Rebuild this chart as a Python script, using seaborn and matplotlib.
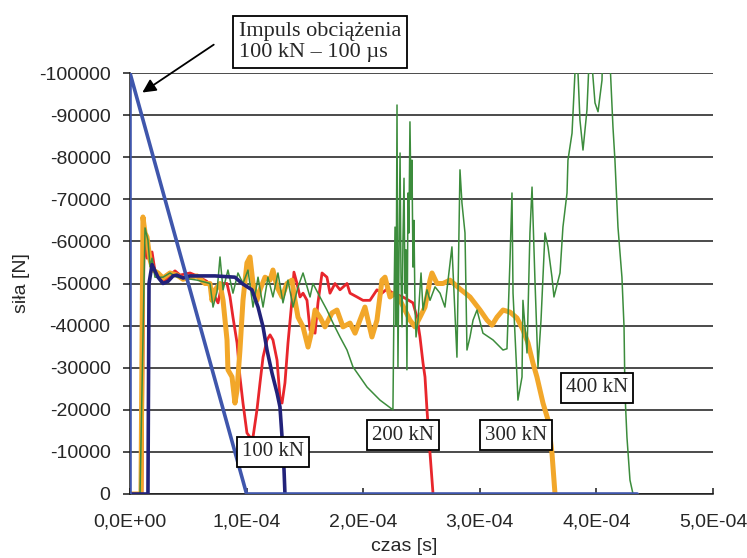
import matplotlib
matplotlib.use("Agg")
import matplotlib.pyplot as plt
from matplotlib.ticker import FuncFormatter
import pandas as pd
import seaborn as sns

# Time in microseconds, force in newtons (compression is negative)
impulse = [(0, 0), (0, -100000), (100, 0), (435, 0)]

kn100 = [
    (0, 0), (15.4, 0), (16.3, -50000), (18.9, -54500), (21.4, -53000), (24.0, -51500),
    (28.3, -50000), (32.6, -50500), (36.9, -51800), (40.3, -52000), (45.5, -51300),
    (51.5, -51800), (72.9, -51800), (90.0, -51500), (96.1, -50000), (104.6, -48500),
    (109.8, -44400), (114.1, -39700), (117.5, -34200), (121.8, -28700), (126.1, -24000),
    (128.6, -20700), (130.4, -13500), (132.1, -5700), (132.9, 0),
]

kn200 = [
    (0, 0), (10.3, 0), (12.0, -60000), (14.6, -56000), (18.9, -57500), (21.4, -53000),
    (25.7, -51500), (30.0, -50500), (34.3, -52000), (38.6, -53000), (42.9, -52000),
    (51.5, -52500), (57.5, -51800), (66.0, -50500), (71.2, -47700), (75.5, -45400),
    (78.9, -50000), (83.2, -50000), (85.8, -46800), (88.3, -42000), (91.8, -35900),
    (94.3, -27800), (96.9, -21600), (100.3, -14500), (102.9, -13500), (105.5, -13500),
    (108.9, -20000), (111.5, -26400), (114.1, -32500), (117.5, -36600), (120.1, -37800),
    (122.6, -36600), (126.1, -31800), (128.6, -23000), (130.4, -21600), (132.9, -26400),
    (135.5, -35900), (138.9, -46000), (140.6, -52700), (143.2, -50000), (145.8, -46800),
    (148.4, -47700), (151.8, -46000), (154.4, -38900), (158.7, -38200), (161.2, -45400),
    (164.7, -52500), (168.9, -51500), (171.5, -47700), (175.8, -50000), (180.1, -48500),
    (186.1, -50000), (188.7, -47700), (194.7, -46800), (199.8, -46000), (205.8, -46000),
    (211.8, -48500), (216.1, -47700), (220.4, -48700), (225.5, -47700), (234.1, -46800),
    (242.7, -45400), (246.1, -42000), (248.7, -37300), (251.3, -31100), (253.0, -27800),
    (254.7, -20000), (257.3, -9700), (259.9, 0),
]

kn300 = [
    (0, 0), (9.4, 0), (11.1, -65800), (12.9, -62000), (14.6, -61000), (17.2, -55600),
    (19.7, -53200), (24.0, -52500), (28.3, -51300), (34.3, -52500), (40.3, -52000),
    (45.5, -51000), (51.5, -51500), (57.5, -51800), (64.3, -50000), (68.6, -50000),
    (70.3, -46000), (72.9, -48500), (77.2, -50000), (79.8, -46000), (83.2, -36600),
    (84.0, -29500), (87.5, -27800), (90.0, -21600), (91.8, -24700), (94.3, -34200),
    (96.9, -46000), (100.3, -54900), (102.9, -56300), (105.5, -50000), (108.9, -46000),
    (111.5, -48500), (115.8, -51500), (120.1, -50800), (122.6, -53200), (126.1, -49200),
    (130.4, -46800), (134.6, -50000), (138.9, -50800), (141.5, -46000), (144.1, -42000),
    (148.4, -39700), (152.7, -34900), (156.1, -38900), (158.7, -43700), (162.9, -42000),
    (167.2, -39700), (173.2, -43000), (177.5, -43700), (182.7, -39700), (188.7, -40600),
    (193.0, -38200), (197.2, -41300), (201.5, -44400), (207.5, -37300), (211.8, -41300),
    (216.1, -50800), (218.7, -51500), (223.0, -46800), (227.3, -47700), (231.6, -46000),
    (235.8, -43700), (240.1, -41300), (244.4, -39700), (248.7, -42000), (253.0, -44400),
    (257.3, -50800), (259.0, -52500), (263.3, -50000), (268.4, -50000), (274.4, -50800),
    (283.0, -48700), (291.6, -46800), (300.2, -43700), (306.2, -41300), (310.5, -40100),
    (314.7, -42000), (319.9, -43700), (325.9, -43200), (331.9, -41800), (337.0, -39000),
    (341.3, -35900), (345.6, -31100), (349.0, -27800), (354.2, -21600), (358.5, -17600),
    (361.9, -9700), (364.5, 0),
]

kn400 = [
    (0, 0), (8.6, 0), (12.9, -63200), (15.4, -60300), (17.2, -54000), (18.9, -56000),
    (21.4, -51500), (28.3, -51500), (34.3, -52500), (40.3, -51500), (45.5, -51300),
    (57.5, -50800), (68.6, -50000), (71.2, -44400), (74.6, -48000), (77.2, -56300),
    (79.8, -48500), (84.0, -53200), (88.3, -47700), (92.6, -52500), (96.9, -50000),
    (101.2, -53200), (105.5, -44400), (109.8, -51500), (114.1, -44400), (118.3, -51500),
    (122.6, -46800), (126.9, -52500), (131.2, -45400), (135.5, -50800), (139.8, -44400),
    (144.1, -49200), (148.4, -52500), (154.4, -46800), (156.9, -50000), (162.9, -46800),
    (168.9, -43700), (174.1, -40600), (180.1, -37300), (186.1, -34200), (191.2, -30200),
    (203.3, -25400), (214.4, -22300), (225.5, -20000), (226.4, -45000), (227.3, -63400),
    (228.2, -40000), (229.0, -92400), (229.8, -30200), (230.7, -55000), (231.6, -81000),
    (232.4, -52000), (233.3, -39700), (234.1, -60300), (235.0, -75000), (235.8, -47700),
    (236.7, -58000), (237.5, -29500), (238.4, -71500), (239.2, -62000), (240.1, -88400),
    (241.0, -70000), (241.8, -79300), (242.7, -53900), (243.5, -65000), (244.4, -45000),
    (245.3, -37300), (247.0, -41300), (249.6, -52500), (251.3, -43700), (254.7, -48500),
    (257.3, -46000), (261.6, -49200), (265.9, -47700), (270.1, -44400), (276.1, -58700),
    (280.4, -32500), (283.0, -77000), (284.7, -69100), (287.3, -62000), (289.0, -34200),
    (291.6, -37300), (294.2, -41300), (297.6, -43700), (302.7, -38200), (311.3, -36600),
    (319.9, -34200), (323.3, -34500), (325.9, -55600), (327.6, -71500), (328.5, -47700),
    (331.9, -27800), (332.7, -22300), (336.2, -27800), (337.0, -46000), (340.5, -33500),
    (343.0, -62000), (344.8, -72900), (347.3, -50800), (349.9, -30200), (352.5, -41300),
    (355.9, -62000), (358.5, -58700), (361.9, -51500), (363.6, -46800), (368.8, -52500),
    (371.3, -63400), (374.8, -71500), (375.6, -79300), (379.1, -85700), (381.6, -100000),
    (383.3, -106000), (385.9, -88800), (388.5, -81700), (391.9, -91200), (394.5, -108000),
    (398.8, -92900), (401.4, -90800), (404.8, -98300), (405.6, -108000), (411.6, -103000),
    (414.2, -87200), (415.9, -79300), (418.5, -63400), (421.9, -51500), (423.7, -39700),
    (424.5, -24000), (426.2, -13500), (428.8, -3300), (431.4, 0),
]

# series: (points, colour, line width, drawing order)
series = {
    "200 kN": (kn200, "#E8262C", 2.0, 3),
    "300 kN": (kn300, "#F2A72A", 3.6, 4),
    "400 kN": (kn400, "#3C8C3C", 1.1, 5),
    "100 kN": (kn100, "#22227A", 2.6, 6),
    "impuls": (impulse, "#3F56AC", 2.6, 7),
}

y_ticks = list(range(0, -100001, -10000))
x_ticks_s = [0, 1e-4, 2e-4, 3e-4, 4e-4, 5e-4]

sans = ["Liberation Sans", "DejaVu Sans"]
serif = ["Liberation Serif", "DejaVu Serif"]

sns.set_style("white")
plt.rcParams["font.family"] = sans
plt.rcParams["axes.unicode_minus"] = False

fig = plt.figure(figsize=(7.47, 5.58), dpi=100)
ax = fig.add_axes([130 / 747, 1 - 494 / 558, 583 / 747, 421 / 558])

for name, (pts, color, lw, z) in series.items():
    df = pd.DataFrame(pts, columns=["t_us", "F"])
    df["t"] = df["t_us"] * 1e-6
    sns.lineplot(data=df, x="t", y="F", estimator=None, sort=False,
                 color=color, linewidth=lw, ax=ax, zorder=z, legend=False)

ax.set_xlim(0, 5e-4)
ax.set_ylim(0, -100000)
ax.set_yticks(y_ticks)
ax.set_xticks(x_ticks_s)
ax.yaxis.set_major_formatter(FuncFormatter(lambda v, p: f"{int(round(v))}"))
ax.xaxis.set_major_formatter(FuncFormatter(lambda v, p: f"{v:.1E}".replace(".", ",")))

ax.grid(axis="y", color="#1a1a1a", linewidth=1.1)
ax.grid(axis="x", visible=False)
ax.set_axisbelow(True)
for side in ("top", "right"):
    ax.spines[side].set_visible(False)
for side in ("left", "bottom"):
    ax.spines[side].set_color("#1a1a1a")
    ax.spines[side].set_linewidth(1.1)

ax.tick_params(axis="y", which="major", direction="out", length=5, width=1.1,
               color="#1a1a1a", pad=9, labelsize=14)
ax.tick_params(axis="x", which="major", direction="in", length=4, width=1.1,
               color="#1a1a1a", pad=14, labelsize=14)
ax.tick_params(left=True, bottom=True)

ax.set_xlabel("czas [s]", fontsize=14)
ax.set_ylabel("siła [N]", fontsize=14)
ax.xaxis.set_label_coords(0.47, -0.104)
ax.yaxis.set_label_coords(-0.172, 0.5)

box = dict(boxstyle="square,pad=0.25", fc="white", ec="black", lw=1.3)
labels = [
    ("100 kN", 122.6, -10000),
    ("200 kN", 234.0, -14000),
    ("300 kN", 331.0, -14000),
    ("400 kN", 400.5, -25200),
]
for text, t_us, f in labels:
    ax.text(t_us * 1e-6, f, text, ha="center", va="center", fontsize=15,
            family=serif, bbox=box, zorder=10)

ax.annotate("", xy=(8.6e-6, -95000), xytext=(73.8e-6, -107100),
            arrowprops=dict(arrowstyle="-|>", color="black", lw=1.3, mutation_scale=20),
            annotation_clip=False, zorder=10)
ax.text(163e-6, -107350, "Impuls obciążenia\n100 kN – 100 µs", ha="center", va="center",
        multialignment="left", fontsize=16, family=serif, linespacing=1.2,
        bbox=dict(boxstyle="square,pad=0.25", fc="white", ec="black", lw=1.3),
        zorder=10, clip_on=False)

fig.savefig("out.png", dpi=100)
